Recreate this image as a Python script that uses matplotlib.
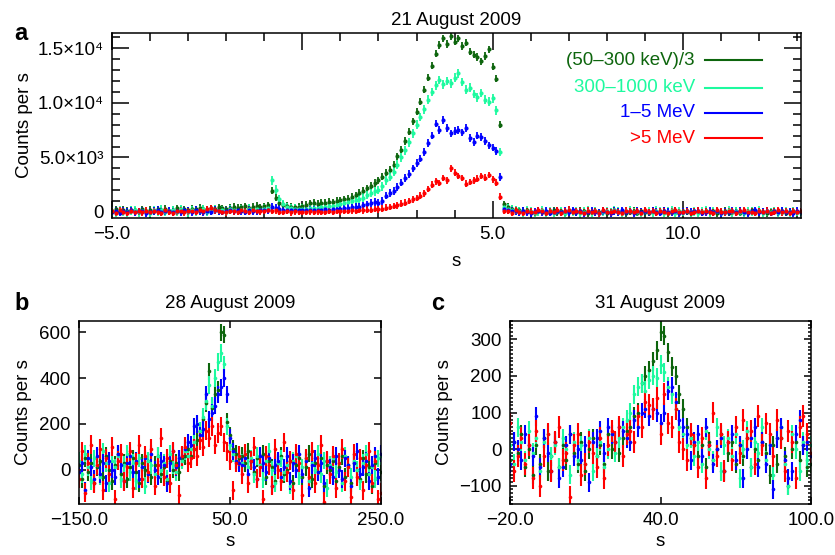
import matplotlib
matplotlib.use("Agg")
import matplotlib.pyplot as plt
import numpy as np

plt.rcParams['font.family'] = ['Liberation Sans', 'DejaVu Sans']
plt.rcParams['font.size'] = 13.5
plt.rcParams['axes.titlesize'] = 13.5
plt.rcParams['axes.linewidth'] = 1.1

colors = ['#0d650d', '#1dfa9f', '#0000ff', '#ff0000']
labels = ['(50\u2013300 keV)/3', '300\u20131000 keV', '1\u20135 MeV', '>5 MeV']

# ---- panel a: 21 August 2009, 0.1 s bins ----
A_DT = 0.1
A_STARTS = [-5.0, -0.8, 5.4]   # pre-burst, burst, post-burst segments

green_a_pre = [120, 260, 40, 180, 90, 210, 150, 30, 240, 110,
               190, 70, 230, 160, 280, 120, 200, 340, 180, 260,
               150, 310, 230, 380, 270, 200, 350, 290, 420, 330,
               260, 400, 470, 360, 430, 510, 390, 480, 550, 440,
               520, 600]
green_a_burst = [1950, 1300, 850, 640, 560, 480, 430, 470, 520, 640,
                 780, 820, 760, 870, 840, 920, 890, 1010, 1060, 1180,
                 1230, 1380, 1520, 1760, 1920, 2180, 2380, 2650, 2900, 3250,
                 3600, 3850, 4350, 5100, 5700, 6500, 7350, 8300, 9200, 10100,
                 11200, 12300, 13400, 14500, 15300, 15900, 15400, 16100, 15600, 15900,
                 15200, 15500, 14700, 14400, 14200, 13800, 14300, 14900, 13300, 12200,
                 8000, 700]
green_a_post = [450, 320, 220, 150, 90, 160, 40, -60, 110, 30,
                -80, 70, 140, -20, 50, -110, 90, 20, -40, 130,
                60, -90, 10, 120, -30, 80, -70, 40, 150, -10,
                70, -120, 30, 100, -50, 60, 0, -80, 110, 40,
                -30, 90, -100, 20, 130, -60, 50, 10, -90, 80,
                30, -40, 120, -20, 60, -110, 40, 90, -50, 20,
                100, -70, 30, -10, 140, -40, 70, 0, -90, 50,
                110, -30, 60, -80, 20, 90, -20, 40]

aqua_a_pre = [60, -80, 150, 20, -40, 110, 190, -20, 80, 30,
              -60, 140, 50, 210, -10, 90, 160, 40, 230, 100,
              -30, 180, 70, 120, 250, 10, 140, 200, 80, 170,
              30, 260, 150, 90, 220, 120, 300, 180, 240, 160,
              290, 350]
aqua_a_burst = [2900, 2050, 1200, 720, 470, 360, 310, 270, 300, 320,
                340, 370, 390, 430, 470, 510, 560, 620, 700, 820,
                900, 1000, 1080, 1160, 1320, 1550, 1740, 1900, 2020, 2350,
                2900, 3250, 3700, 4350, 5000, 5650, 6400, 7200, 8000, 8700,
                9400, 10300, 11000, 11600, 12100, 11700, 12000, 11800, 12300, 12700,
                11900, 11200, 11400, 10800, 10500, 10900, 10300, 10100, 10400, 9300,
                5500, 420]
aqua_a_post = [300, 200, 130, 60, -40, 110, 20, -90, 70, 140,
               -20, 50, -70, 100, 30, -50, 160, 0, 80, -110,
               40, 120, -30, 60, -80, 10, 90, -40, 150, 20,
               -60, 70, 130, -10, 40, -100, 80, 30, -20, 110,
               50, -70, 20, 140, -50, 60, 0, 100, -30, 70,
               -90, 40, 120, -20, 30, 80, -60, 10, 150, -40,
               60, 20, -80, 90, 40, -10, 130, -70, 50, 0,
               100, -50, 30, 80, -30, 60, 10, -60]

blue_a_pre = [40, 120, -50, 80, 10, 150, -30, 60, 110, -70,
              30, 90, 170, -20, 50, 130, 0, 80, -40, 140,
              70, 20, 180, 60, -10, 110, 40, 160, 90, 30,
              130, 200, 70, 150, 100, 40, 190, 120, 80, 210,
              150, 180]
blue_a_burst = [480, 360, 260, 210, 170, 190, 140, 160, 180, 150,
                200, 170, 220, 190, 240, 210, 260, 280, 300, 340,
                380, 420, 450, 500, 600, 700, 820, 900, 850, 1000,
                1500, 1750, 1950, 2300, 2700, 3100, 3500, 4000, 4500, 4900,
                5500, 6300, 7000, 8100, 7500, 8400, 7700, 7200, 7400, 7500,
                7300, 7700, 6800, 6400, 7000, 6900, 6500, 6100, 5900, 5600,
                3200, 250]
blue_a_post = [180, 110, 60, -30, 90, 20, -80, 50, 130, -10,
               70, -60, 30, 110, -40, 80, 0, 150, -20, 60,
               -90, 40, 100, 10, -50, 120, 30, -70, 70, 20,
               140, -30, 50, -100, 90, 0, 60, -40, 130, 20,
               -60, 80, 40, -20, 110, -80, 30, 70, -10, 50,
               130, -50, 20, 90, -30, 60, -70, 40, 10, 100,
               -40, 80, 20, -90, 60, 140, -20, 30, 70, -60,
               50, 0, 110, -30, 40, -80, 90, 20]

red_a_pre = [80, -60, 150, 30, -90, 110, 20, 60, -40, 130,
             -20, 90, 40, -70, 160, 10, -50, 70, 120, -30,
             50, 100, 0, 180, 60, 240, 380, 150, 90, 20,
             -40, 110, 60, -20, 140, 80, 30, 170, 100, 50,
             130, 200]
red_a_burst = [80, 150, 40, 20, 90, -30, 60, 10, 40, -20,
               50, 0, 70, 30, -10, 80, 40, 100, 60, 120,
               80, 150, 110, 170, 140, 220, 190, 260, 230, 320,
               400, 470, 560, 620, 760, 850, 1000, 1150, 1300, 1500,
               1700, 2100, 2500, 2800, 2650, 3100, 2900, 4000, 3600, 3300,
               3100, 2600, 2750, 2900, 3050, 3300, 3150, 3400, 3000, 2700,
               1400, 120]
red_a_post = [90, -50, 160, 20, -80, 110, 40, -30, 200, 60,
              -100, 80, 10, 140, -60, 50, 220, -20, 90, 30,
              -70, 120, 0, 60, -120, 170, 40, -40, 100, 20,
              -90, 130, 70, -10, 50, -70, 190, 10, 80, -50,
              110, 30, -110, 60, 150, -30, 20, 90, -80, 40,
              130, -20, 70, 10, -60, 180, 30, -40, 100, 50,
              -90, 60, 140, -10, 30, -70, 80, 20, 120, -50,
              40, 160, -30, 70, -100, 50, 10, 90]

# ---- panel b: 28 August 2009, 4 s bins ----
B_DT = 4.0
B_STARTS = [-150.0, -2.0, 66.0]

green_b_pre = [20, -40, 50, -10, 30, -60, 10, 40, -30, 60,
               0, -50, 20, 70, -20, 30, -40, 10, 50, -10,
               -60, 30, 0, 40, -30, 20, 60, -20, 10, -50,
               40, 0, 30, -10, 50, 60, 90]
green_b_burst = [60, 90, 130, 170, 220, 290, 430, 270, 330, 350, 600, 590, 210, 150, 90, 70, 50]
green_b_post = [60, 30, 80, 40, -10, 50, 20, 70, -30, 40,
                10, -50, 30, 60, -20, 0, 40, -60, 20, 50,
                -30, 10, 70, -40, 30, -10, 50, -70, 20, 0,
                40, -50, 10, 60, -30, 20, -60, 30, 0, -40,
                50, -20, 10, -70, 30, -30, -10]

aqua_b_pre = [40, -20, 70, 10, -50, 50, 20, -30, 80, 30,
              -60, 40, 10, 60, -40, 20, 70, -10, 30, -50,
              50, 10, -70, 40, 20, -20, 60, 0, 30, -40,
              70, 20, -10, 50, 40, 80, 60]
aqua_b_burst = [90, 120, 200, 170, 230, 300, 370, 280, 400, 470, 510, 460, 190, 110, 70, 40, 60]
aqua_b_post = [30, 70, 10, 50, -20, 60, 20, -40, 40, 80,
               0, -60, 30, 50, -10, 20, -70, 40, 60, -30,
               10, 50, -50, 30, 0, 70, -20, 40, -80, 20,
               50, -10, 30, -60, 60, 10, -30, 40, 0, -50,
               30, 70, -20, 10, -40, 50, 60]

blue_b_pre = [-10, 30, -90, 50, 10, -40, 60, -20, 30, -60,
              40, 0, -30, 70, 20, -50, 30, 60, -10, 40,
              -40, 10, 50, -20, 70, 0, -30, 40, 20, -60,
              30, 80, 10, 50, 60, 90, 120]
blue_b_burst = [110, 190, 200, 150, 180, 330, 220, 250, 280, 330, 360, 400, 330, 140, 80, 40, 30]
blue_b_post = [20, 50, -20, 40, 10, -40, 60, 30, -10, 50,
               -70, 20, 40, -30, 10, 60, -50, 30, 0, 70,
               -20, 40, -80, 20, 50, -10, 30, -60, 40, 10,
               -30, 60, 0, -40, 50, 20, -70, 30, 80, -20,
               10, 40, -50, 20, 60, -30, 70]

red_b_pre = [-40, 80, -100, 30, 110, -60, 20, 90, -90, 50,
             -20, 100, -130, 40, 70, -50, 10, 80, -80, 30,
             110, -40, 60, -10, 90, -70, 20, 140, -30, 50,
             -60, 80, 20, -110, 60, 100, 30]
red_b_burst = [50, 90, 60, 130, 100, 170, 140, 190, 110, 160, 190, 120, 80, 40, -90, 30, 60]
red_b_post = [-20, 70, -60, 40, 100, -40, 10, -130, 60, 20,
              -70, 90, 0, -50, 120, -10, 40, -90, 70, 30,
              -110, 50, -30, 80, -60, 20, 110, -140, 40, -20,
              60, -80, 30, 90, -50, 10, -120, 70, -30, 50,
              -90, 20, 80, -60, 40, -130, -100]

# ---- panel c: 31 August 2009, 1.5 s bins ----
C_DT = 1.5
C_STARTS = [-20.0, 28.0, 55.0]

green_c_pre = [-30, 20, -10, 40, -50, 0, -70, 10, -40, 30,
               -60, -20, 20, -50, 10, -30, 40, -10, -40, 20,
               -60, 0, 30, -20, 10, -40, 40, 0, 20, -10,
               30, 50]
green_c_burst = [60, 90, 100, 180, 200, 215, 240, 270, 320, 310, 265, 225, 200, 150, 110, 60, 30, 10]
green_c_post = [-20, 10, -50, 20, -30, 0, 40, -60, -10, 20,
                -40, 10, -20, 30, -50, 0, -30, 20, -10, -70,
                10, -40, 30, -20, -100, 0, 20, -30, 10, -50,
                -40]

aqua_c_pre = [10, -40, 60, 20, -30, 50, -10, 30, -60, 20,
              40, -20, 10, -50, 30, 0, -70, 20, -30, 10,
              -40, 30, -60, -20, 20, -50, 0, 40, -10, 30,
              60, 80]
aqua_c_burst = [100, 150, 170, 180, 160, 190, 200, 195, 230, 210, 170, 150, 110, 60, 40, 10, 30, -20]
aqua_c_post = [20, -40, 50, 0, -30, 60, -60, 10, 30, -20,
               40, -80, 0, 50, -50, 20, -10, 60, -30, 10,
               -70, 30, 60, -40, -100, 40, 0, -60, 20, -30,
               10]

blue_c_pre = [-40, 20, 0, -30, 40, 10, -20, 90, -50, 30,
              -10, -60, 20, -80, -50, 10, 40, -20, 0, -30,
              10, -90, 20, 30, 50, -10, 60, 40, 20, 60,
              50, 30]
blue_c_burst = [20, 80, 60, 100, 110, 90, 110, 100, 70, 100, 160, 170, 130, 80, 60, 40, -30, 20]
blue_c_post = [40, -20, 60, 10, -40, 0, 30, -60, 20, 40,
               -30, 10, -80, 0, 30, 60, -50, 20, -40, 10,
               -110, 30, 60, -30, -80, -60, 40, 80, 10, 20,
               -20]

red_c_pre = [70, -60, -20, 30, -40, 10, -80, 50, -100, -20,
             40, -60, 20, 60, -30, -10, -130, 10, 40, -70,
             -40, 20, -10, -50, 30, -80, 10, 50, 20, 60,
             -20, 40]
red_c_burst = [50, 20, 90, 60, 130, 120, 110, 140, 40, 150, 70, 60, 110, 20, 0, -30, 40, 10]
red_c_post = [-50, 30, -80, 10, 100, -20, 40, -60, 20, -30,
              60, -10, 80, 30, 50, -40, 90, 10, 70, 40,
              -20, 80, 30, -60, 50, 20, -80, 60, 90, 40,
              -10]

panel_a = [(green_a_pre, green_a_burst, green_a_post),
           (aqua_a_pre, aqua_a_burst, aqua_a_post),
           (blue_a_pre, blue_a_burst, blue_a_post),
           (red_a_pre, red_a_burst, red_a_post)]
panel_b = [(green_b_pre, green_b_burst, green_b_post),
           (aqua_b_pre, aqua_b_burst, aqua_b_post),
           (blue_b_pre, blue_b_burst, blue_b_post),
           (red_b_pre, red_b_burst, red_b_post)]
panel_c = [(green_c_pre, green_c_burst, green_c_post),
           (aqua_c_pre, aqua_c_burst, aqua_c_post),
           (blue_c_pre, blue_c_burst, blue_c_post),
           (red_c_pre, red_c_burst, red_c_post)]

err_a = [330, 400, 350, 300]
err_b = [38, 38, 38, 42]
err_c = [26, 26, 26, 30]


def draw_series(ax, series, starts, dt, errs, ms=2.6, elw=1.5):
    for segs, col, e in zip(series, colors, errs):
        t = np.concatenate([s0 + dt * np.arange(len(seg)) for s0, seg in zip(starts, segs)])
        y = np.concatenate([np.asarray(seg, float) for seg in segs])
        ax.errorbar(t, y, yerr=e, fmt='o', ms=ms, mew=0, color=col,
                    ecolor=col, elinewidth=elw, capsize=0)


fig = plt.figure(figsize=(8.35, 5.55), dpi=100)
W, H = 835.0, 555.0


def box(l, r, t, b):
    return [l / W, 1 - b / H, (r - l) / W, (b - t) / H]


ax_a = fig.add_axes(box(112, 801, 33, 218))
ax_b = fig.add_axes(box(79, 381, 321, 504))
ax_c = fig.add_axes(box(510, 811, 321, 504))

# panel a
draw_series(ax_a, panel_a, A_STARTS, A_DT, err_a, ms=3.0, elw=1.3)
ax_a.set_xlim(-5.0, 13.1)
ax_a.set_ylim(-550, 16400)
ax_a.set_xticks([-5, 0, 5, 10])
ax_a.set_xticklabels(['\u22125.0', '0.0', '5.0', '10.0'])
ax_a.set_xticks(np.arange(-5, 14, 1), minor=True)
ax_a.set_yticks([0, 5000, 10000, 15000])
ax_a.set_yticklabels(['0', '5.0\u00d710\u00b3', '1.0\u00d710\u2074', '1.5\u00d710\u2074'])
ax_a.set_yticks(np.arange(0, 16001, 1000), minor=True)
ax_a.tick_params(which='both', direction='in', top=True, right=True, width=1.1)
ax_a.tick_params(which='major', length=12, pad=6)
ax_a.tick_params(which='minor', length=6)
ax_a.set_title('21 August 2009', pad=6)
ax_a.set_xlabel('s')
ax_a.set_ylabel('Counts per s')
ax_a.xaxis.set_label_coords(0.5, -0.19)
ax_a.yaxis.set_label_coords(-0.115, 0.5)

leg_y = [0.854, 0.703, 0.568, 0.432]
for lab, col, yy in zip(labels, colors, leg_y):
    ax_a.text(0.846, yy, lab, color=col, ha='right', va='center', transform=ax_a.transAxes)
    ax_a.plot([0.861, 0.943], [yy, yy], color=col, lw=1.5, transform=ax_a.transAxes)

# panel b
draw_series(ax_b, panel_b, B_STARTS, B_DT, err_b)
ax_b.set_xlim(-150, 250)
ax_b.set_ylim(-150, 650)
ax_b.set_xticks([-150, 50, 250])
ax_b.set_xticklabels(['\u2212150.0', '50.0', '250.0'])
ax_b.set_yticks([0, 200, 400, 600])
ax_b.tick_params(which='both', direction='in', top=True, right=True, width=1.1)
ax_b.tick_params(which='major', length=5, pad=6)
ax_b.set_title('28 August 2009', pad=9)
ax_b.set_xlabel('s')
ax_b.set_ylabel('Counts per s')
ax_b.xaxis.set_label_coords(0.5, -0.16)
ax_b.yaxis.set_label_coords(-0.154, 0.5)

# panel c
draw_series(ax_c, panel_c, C_STARTS, C_DT, err_c)
ax_c.set_xlim(-20, 100)
ax_c.set_ylim(-150, 350)
ax_c.set_xticks([-20, 40, 100])
ax_c.set_xticklabels(['\u221220.0', '40.0', '100.0'])
ax_c.set_yticks([-100, 0, 100, 200, 300])
ax_c.set_yticklabels(['\u2212100', '0', '100', '200', '300'])
ax_c.set_yticks(np.arange(-150, 351, 10), minor=True)
ax_c.tick_params(which='both', direction='in', top=True, right=True, width=1.1)
ax_c.tick_params(which='major', length=5, pad=6)
ax_c.tick_params(axis='y', which='minor', length=2.5)
ax_c.set_title('31 August 2009', pad=9)
ax_c.set_xlabel('s')
ax_c.set_ylabel('Counts per s')
ax_c.xaxis.set_label_coords(0.5, -0.16)
ax_c.yaxis.set_label_coords(-0.191, 0.5)

for letter, x, y in [('a', 21, 34), ('b', 22, 303), ('c', 438, 303)]:
    fig.text(x / W, 1 - y / H, letter, fontsize=17, fontweight='bold', ha='center', va='center')

fig.savefig('out.png', dpi=100)
